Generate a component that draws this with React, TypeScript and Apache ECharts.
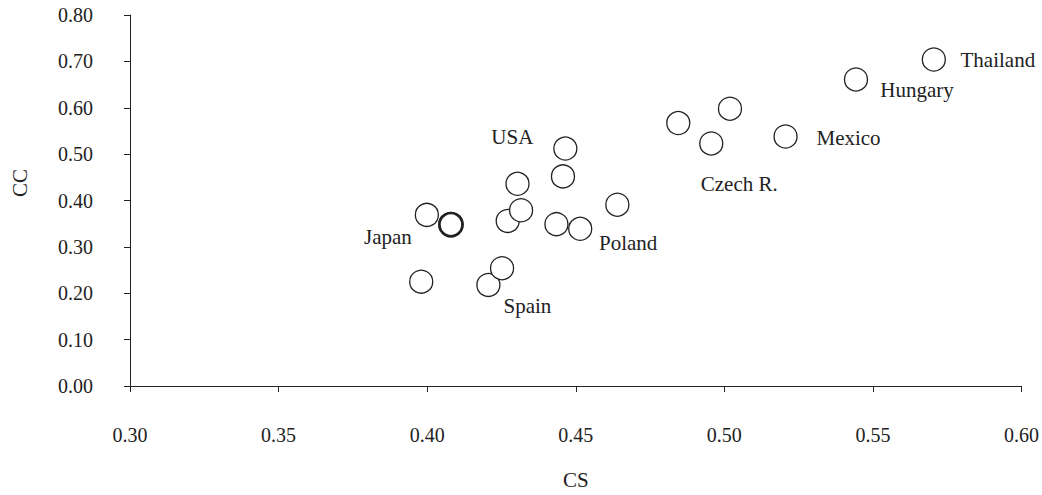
import React, { useEffect, useRef } from "react";
import * as echarts from "echarts";

// ---- Data ----
const csValues: number[] = [
  0.4206, 0.4252, 0.398, 0.3999, 0.408, 0.408, 0.4271, 0.4316, 0.4435, 0.4515,
  0.464, 0.4304, 0.4457, 0.4465, 0.4845, 0.4956, 0.5019, 0.5206, 0.5443, 0.5705,
];
const ccValues: number[] = [
  0.218, 0.254, 0.225, 0.369, 0.348, 0.348, 0.356, 0.379, 0.349, 0.339,
  0.391, 0.436, 0.452, 0.512, 0.567, 0.523, 0.598, 0.538, 0.661, 0.704,
];
const pointLabels: string[] = [
  "Spain", "", "", "Japan", "", "", "", "", "", "Poland",
  "", "", "", "USA", "", "Czech R.", "", "Mexico", "Hungary", "Thailand",
];
const xTicks = { min: 0.3, max: 0.6, step: 0.05 };
const yTicks = { min: 0, max: 0.8, step: 0.1 };
const xAxisTitle = "CS";
const yAxisTitle = "CC";

// ---- Styling: label placement relative to its marker (px) ----
const labelOffsets: Record<string, [number, number]> = {
  Spain: [39, 21],
  Japan: [-39, 22],
  Poland: [48, 14],
  USA: [-53, -12],
  "Czech R.": [28, 41],
  Mexico: [63, 1],
  Hungary: [61, 11],
  Thailand: [64, 0],
};

const FONT = "'Liberation Serif', 'Times New Roman', serif";
const INK = "#222";

export default function App() {
  const ref = useRef<HTMLDivElement>(null);

  useEffect(() => {
    if (!ref.current) return;
    const chart = echarts.init(ref.current, undefined, { renderer: "svg" });

    const key = (i: number) => `${csValues[i]}|${ccValues[i]}`;
    const counts: Record<string, number> = {};
    csValues.forEach((_, i) => {
      counts[key(i)] = (counts[key(i)] || 0) + 1;
    });

    const data = csValues.map((x, i) => {
      const name = pointLabels[i];
      const off = labelOffsets[name] || [0, 0];
      return {
        value: [x, ccValues[i]],
        name,
        itemStyle: { borderWidth: 1.3 * counts[key(i)] },
        label: {
          show: name !== "",
          position: "inside",
          offset: off,
          formatter: name,
          align: "center",
          verticalAlign: "middle",
        },
      };
    });

    chart.setOption({
      animation: false,
      textStyle: { fontFamily: FONT },
      grid: { left: 130, right: 17, top: 15, bottom: 106.5, containLabel: false },
      xAxis: {
        type: "value",
        min: xTicks.min,
        max: xTicks.max,
        interval: xTicks.step,
        name: xAxisTitle,
        nameLocation: "middle",
        nameGap: 83,
        nameTextStyle: { fontFamily: FONT, fontSize: 21, color: INK },
        axisLine: { show: true, lineStyle: { color: INK, width: 1 } },
        axisTick: { show: true, length: 6, lineStyle: { color: INK } },
        axisLabel: {
          margin: 39,
          fontFamily: FONT,
          fontSize: 20,
          color: INK,
          formatter: (v: number) => v.toFixed(2),
        },
        splitLine: { show: false },
      },
      yAxis: {
        type: "value",
        min: yTicks.min,
        max: yTicks.max,
        interval: yTicks.step,
        axisLine: { show: true, lineStyle: { color: INK, width: 1 } },
        axisTick: { show: true, length: 6, lineStyle: { color: INK } },
        axisLabel: {
          margin: 37,
          fontFamily: FONT,
          fontSize: 20,
          color: INK,
          formatter: (v: number) => v.toFixed(2),
        },
        splitLine: { show: false },
      },
      graphic: [
        {
          type: "text",
          x: 20,
          y: 183,
          rotation: Math.PI / 2,
          style: {
            text: yAxisTitle,
            fontFamily: FONT,
            fontSize: 21,
            fill: INK,
            align: "center",
            verticalAlign: "middle",
          },
        },
      ],
      series: [
        {
          type: "scatter",
          symbol: "circle",
          symbolSize: 23,
          itemStyle: { color: "#fff", borderColor: INK, borderWidth: 1.3, opacity: 1 },
          label: { fontFamily: FONT, fontSize: 21, color: INK },
          emphasis: { disabled: true },
          data,
        },
      ],
    });

    return () => chart.dispose();
  }, []);

  return (
    <div
      ref={ref}
      style={{ position: "absolute", left: 0, top: 0, width: 1042, height: 495, background: "#fff" }}
    />
  );
}
